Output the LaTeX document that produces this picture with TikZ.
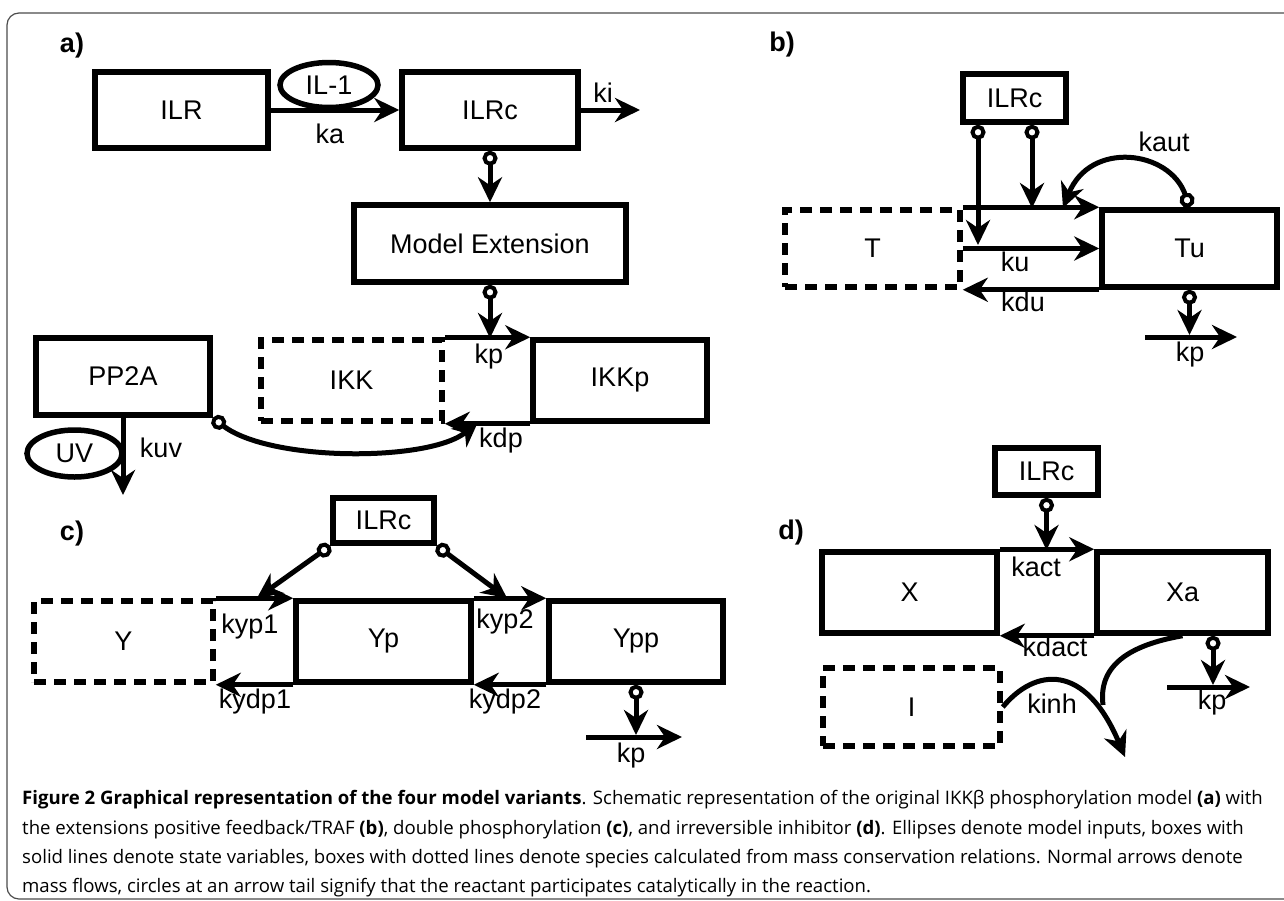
\documentclass[tikz,border=0pt]{standalone}
\usepackage{fontspec}
\setmainfont{Liberation Sans}
\newfontfamily\capfont{Open Sans}
\usetikzlibrary{arrows.meta,shapes.geometric,calc}
\begin{document}
\begin{tikzpicture}[x=1pt,y=-1pt,
  box/.style 2 args={draw,line width=5.5pt,inner sep=0pt,minimum width=#1pt,minimum height=#2pt,font=\fontsize{27}{30}\selectfont},
  dbox/.style 2 args={box={#1}{#2},dash pattern=on 12pt off 8pt},
  ell/.style 2 args={draw,ellipse,line width=5.5pt,inner sep=0pt,minimum width=#1pt,minimum height=#2pt,font=\fontsize{27}{30}\selectfont},
  lab/.style={inner sep=0pt,font=\fontsize{27}{30}\selectfont},
  plab/.style={inner sep=0pt,font=\fontsize{27}{30}\selectfont\bfseries},
  tip/.tip={Stealth[length=25pt,width=24pt,inset=8pt]},
  rxn/.style={line width=5pt,-tip},
  cat/.style={line width=5pt,{Circle[open,length=15pt,width=15pt,line width=4pt]}-tip},
  capl/.style={anchor=west,inner sep=0pt,font=\capfont\fontsize{18.6}{22}\selectfont}
]
\useasboundingbox (0,0) rectangle (1284,900);
\draw[gray!60!black,line width=1.2pt,rounded corners=12pt] (7,13) rectangle (1300,899);

% ---------- panel a
\node[plab] (pa) at (72,46) {a)};
\node[box={173}{76}] (ILR) at (181.5,110) {ILR};
\node[box={176}{76}] (ILRca) at (490,110) {ILRc};
\node[ell={98}{45}] (IL1) at (329,85) {IL-1};
\node[box={272}{77}] (ME) at (490,243.5) {Model Extension};
\node[dbox={181}{81}] (IKK) at (351.5,380.5) {IKK};
\node[box={174}{81}] (IKKp) at (620,380.5) {IKKp};
\node[box={174}{77}] (PP2A) at (123,376.5) {PP2A};
\node[ell={95}{47}] (UV) at (74.5,453.5) {UV};
\coordinate (kiend) at (640,110);
\coordinate (akp) at (490,338);
\coordinate (kdpend) at (478,422);
\coordinate (uvend) at (123,495);
\draw[rxn] (ILR.east) -- (ILRca.west);
\draw[rxn] (ILRca.east) -- (kiend);
\draw[cat] (ILRca.south) -- (ME.north);
\draw[cat] (ME.south) -- (akp);
\draw[rxn] (IKK.north east) -- (IKKp.north west);
\draw[rxn] (IKKp.south west) -- (IKK.south east);
\draw[cat] (PP2A.south east) .. controls (270,462) and (430,462) .. (kdpend);
\draw[rxn] (PP2A.south) -- (uvend);
\node[lab] (ka) at (330,134) {ka};
\node[lab] (ki) at (603,93) {ki};
\node[lab] (kpa) at (489,357) {kp};
\node[lab] (kdp) at (501,441) {kdp};
\node[lab] (kuv) at (161,448) {kuv};

% ---------- panel b
\node[plab] (pb) at (782,45) {b)};
\node[box={103}{48}] (ILRcb) at (1014.5,98) {ILRc};
\node[dbox={175}{77}] (T) at (872.5,248.5) {T};
\node[box={175}{77}] (Tu) at (1189.5,248.5) {Tu};
\coordinate (bL) at (978,245);
\coordinate (bR) at (1032,208);
\coordinate (kautend) at (1063,208);
\coordinate (bkp) at (1189.5,335);
\coordinate (bkpL) at (1145,337);
\coordinate (bkpR) at (1237,337);
\draw[cat] ($(ILRcb.south)+(-36.5,0)$) -- (bL);
\draw[cat] ($(ILRcb.south)+(17.5,0)$) -- (bR);
\draw[rxn] (T.north east) -- (Tu.north west);
\draw[rxn] (T.east) -- (Tu.west);
\draw[rxn] (Tu.south west) -- (T.south east);
\draw[cat] (Tu.north) .. controls (1170,150) and (1090,140) .. (kautend);
\draw[cat] (Tu.south) -- (bkp);
\draw[rxn] (bkpL) -- (bkpR);
\node[lab] (kaut) at (1164,142) {kaut};
\node[lab] (ku) at (1015,262) {ku};
\node[lab] (kdu) at (1023,302) {kdu};
\node[lab] (kpb) at (1190,355) {kp};

% ---------- panel c
\node[plab] (pc) at (72,534) {c)};
\node[box={101}{45}] (ILRcc) at (383.5,520.5) {ILRc};
\node[dbox={179}{81}] (Y) at (123.5,641.5) {Y};
\node[box={175}{81}] (Yp) at (383.5,641.5) {Yp};
\node[box={174}{81}] (Ypp) at (636,641.5) {Ypp};
\coordinate (cL) at (257,598);
\coordinate (cR) at (507,598);
\coordinate (ckp) at (636,735);
\coordinate (ckpL) at (586,737);
\coordinate (ckpR) at (682,737);
\draw[cat] (ILRcc.south west) -- (cL);
\draw[cat] (ILRcc.south east) -- (cR);
\draw[rxn] (Y.north east) -- (Yp.north west);
\draw[rxn] (Yp.north east) -- (Ypp.north west);
\draw[rxn] (Yp.south west) -- (Y.south east);
\draw[rxn] (Ypp.south west) -- (Yp.south east);
\draw[cat] (Ypp.south) -- (ckp);
\draw[rxn] (ckpL) -- (ckpR);
\node[lab] (kyp1) at (250,627) {kyp1};
\node[lab] (kyp2) at (505,622) {kyp2};
\node[lab] (kydp1) at (255,702) {kydp1};
\node[lab] (kydp2) at (505,702) {kydp2};
\node[lab] (kpc) at (631,756) {kp};

% ---------- panel d
\node[plab] (pd) at (791,533) {d)};
\node[box={103}{47}] (ILRcd) at (1046.5,471.5) {ILRc};
\node[box={175}{81}] (X) at (909.5,592.5) {X};
\node[box={171}{81}] (Xa) at (1182.5,592.5) {Xa};
\node[dbox={177}{78}] (I) at (911.5,707) {I};
\coordinate (dact) at (1046.5,550);
\coordinate (dinh) at (1125,757);
\coordinate (dmerge) at (1103,705);
\coordinate (dkp) at (1213,685);
\coordinate (dkpL) at (1167,687);
\coordinate (dkpR) at (1250,687);
\draw[cat] (ILRcd.south) -- (dact);
\draw[rxn] (X.north east) -- (Xa.north west);
\draw[rxn] (Xa.south west) -- (X.south east);
\draw[rxn] (I.east) .. controls (1035,668) and (1085,662) .. (dinh);
\draw[line width=5pt] (Xa.south) .. controls (1130,645) and (1098,665) .. (dmerge);
\draw[cat] ($(Xa.south)+(30.5,0)$) -- (dkp);
\draw[rxn] (dkpL) -- (dkpR);
\node[lab] (kact) at (1036,567) {kact};
\node[lab] (kdact) at (1055,647) {kdact};
\node[lab] (kinh) at (1052,704) {kinh};
\node[lab] (kpd) at (1212,703) {kp};

% ---------- caption
\node[capl] (cap1) at (22,800) {\textbf{Figure 2 Graphical representation of the four model variants}. Schematic representation of the original IKKβ phosphorylation model \textbf{(a)} with};
\node[capl] (cap2) at (22,830) {the extensions positive feedback/TRAF \textbf{(b)}, double phosphorylation \textbf{(c)}, and irreversible inhibitor \textbf{(d)}. Ellipses denote model inputs, boxes with};
\node[capl] (cap3) at (22,859) {solid lines denote state variables, boxes with dotted lines denote species calculated from mass conservation relations. Normal arrows denote};
\node[capl] (cap4) at (22,888) {mass flows, circles at an arrow tail signify that the reactant participates catalytically in the reaction.};
\end{tikzpicture}
\end{document}
